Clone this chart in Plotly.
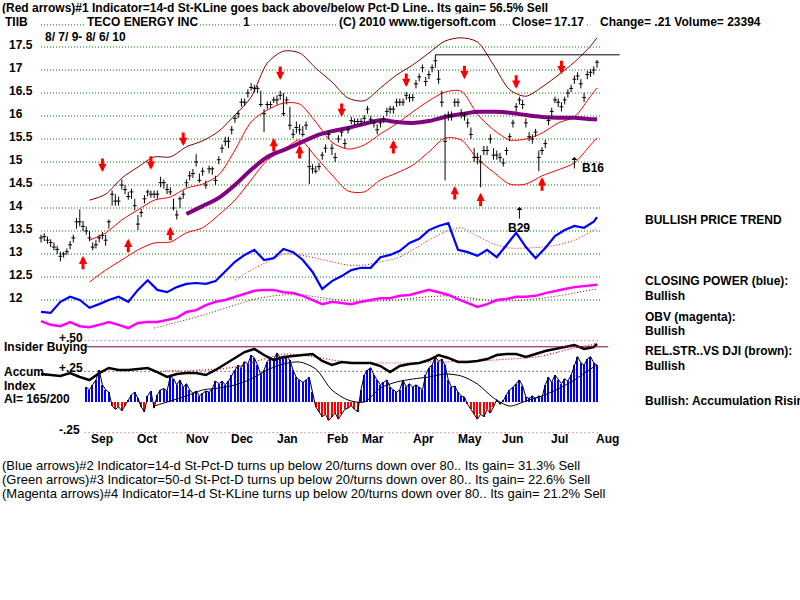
import plotly.graph_objects as go

# ---------------- DATA ----------------
closes = [13.35,13.38,13.30,13.25,13.15,13.10,12.95,13.00,13.05,13.20,
          13.35,13.70,13.70,13.60,13.50,13.35,13.15,13.20,13.35,13.40,
          13.30,13.70,14.30,14.15,14.15,14.50,14.40,14.25,14.35,14.05,
          13.65,13.90,14.20,14.35,14.30,14.30,14.30,14.55,14.55,14.40,
          14.35,14.00,13.85,14.20,14.30,14.55,
          14.70,14.75,15.00,14.60,14.80,14.50,14.85,14.85,14.60,15.05,
          15.30,15.45,15.45,15.70,15.95,16.05,16.30,16.30,16.50,16.62,
          16.60,16.60,16.25,16.05,16.25,16.25,16.35,16.35,16.45,16.05,
          16.35,15.80,15.60,
          15.75,15.70,15.60,15.80,14.90,14.85,14.80,14.90,15.15,15.30,
          15.60,15.30,15.10,15.50,15.65,15.40,15.70,15.90,15.88,15.88,
          15.88,15.95,16.15,15.93,15.85,15.70,15.85,15.93,16.10,16.15,
          16.15,16.30,16.30,16.30,16.45,16.40,16.40,16.70,16.85,17.05,
          16.75,16.90,17.05,17.20,16.80,16.30,15.45,16.00,16.00,16.30,
          16.30,16.05,16.00,15.85,15.60,15.10,15.10,15.00,15.25,15.25,
          15.50,15.15,15.15,15.10,14.98,15.25,15.55,15.85,16.20,16.35,
          16.25,15.85,15.55,15.50,15.65,15.10,15.25,15.40,15.90,16.10,
          16.35,16.30,16.20,16.35,16.50,16.60,16.80,16.87,16.70,16.40,
          16.90,16.95,17.00,17.17]
highs = [13.42,13.45,13.38,13.32,13.25,13.18,13.05,13.05,13.12,13.28,
         13.42,13.78,13.97,13.72,13.60,13.50,13.25,13.30,13.42,13.48,
         13.42,13.75,14.38,14.30,14.25,14.62,14.50,14.35,14.42,14.20,
         13.85,13.98,14.28,14.40,14.38,14.38,14.38,14.68,14.62,14.52,
         14.45,14.20,13.95,14.25,14.38,14.62,
         14.80,14.85,15.17,14.75,14.88,14.60,14.92,14.90,14.70,15.12,
         15.38,15.55,15.55,15.78,16.02,16.12,16.38,16.38,16.58,16.72,
         16.68,16.65,16.55,16.15,16.32,16.32,16.42,16.45,16.55,16.50,
         16.42,16.20,15.72,
         15.88,15.82,15.78,15.88,15.30,14.95,14.92,14.98,15.22,15.38,
         15.68,15.40,15.20,15.58,15.72,15.50,15.78,15.98,15.95,15.95,
         15.95,16.02,16.22,16.00,15.92,15.82,15.92,16.00,16.18,16.22,
         16.22,16.38,16.38,16.38,16.52,16.48,16.48,16.78,16.92,17.12,
         16.85,16.98,17.12,17.33,17.00,16.55,16.05,16.10,16.10,16.38,
         16.38,16.15,16.08,15.95,15.75,15.30,15.20,15.15,15.35,15.35,
         15.60,15.30,15.25,15.20,15.08,15.32,15.62,15.92,16.28,16.42,
         16.35,15.95,15.65,15.60,15.72,15.25,15.32,15.48,15.98,16.18,
         16.42,16.38,16.30,16.42,16.58,16.68,16.88,16.95,16.80,16.50,
         16.98,17.02,17.08,17.22]
lows = [13.25,13.28,13.22,13.15,13.08,13.00,12.84,12.92,12.98,13.10,
        13.25,13.55,13.60,13.50,13.42,13.28,13.08,13.12,13.25,13.32,
        13.18,13.55,14.05,14.05,14.05,14.40,14.30,14.18,14.20,13.95,
        13.52,13.80,14.10,14.25,14.22,14.22,14.20,14.45,14.42,14.30,
        14.28,13.95,13.75,14.00,14.20,14.45,
        14.60,14.65,14.90,14.55,14.70,14.42,14.75,14.72,14.50,14.95,
        15.20,15.35,15.30,15.60,15.85,15.95,16.20,16.22,16.40,16.55,
        16.52,16.50,16.20,15.65,16.15,16.18,16.28,16.25,16.35,16.00,
        16.25,15.70,15.52,
        15.62,15.60,15.55,15.70,14.52,14.75,14.75,14.82,15.05,15.20,
        15.50,15.15,15.00,15.42,15.55,15.30,15.62,15.82,15.80,15.80,
        15.80,15.85,16.05,15.85,15.75,15.60,15.75,15.85,16.00,16.05,
        16.05,16.20,16.22,16.22,16.35,16.30,16.32,16.60,16.75,16.95,
        16.65,16.80,16.95,17.05,16.70,16.20,14.60,15.90,15.90,16.20,
        16.20,15.95,15.90,15.75,15.50,15.00,14.95,14.45,15.15,15.15,
        15.40,15.05,15.05,15.00,14.90,15.15,15.45,15.75,16.10,16.25,
        16.15,15.75,15.45,15.40,15.55,14.80,15.15,15.30,15.80,16.00,
        16.28,16.20,16.10,16.25,16.40,16.52,16.70,16.78,16.60,16.30,
        16.80,16.85,16.90,17.05]

# smooth overlays sampled every 5 trading days (bar index)
grid5 = list(range(0, 171, 5)) + [172]
upper_band = [None,None,None,14.17,14.30,14.65,14.89,15.11,15.11,15.33,15.46,15.67,16.02,16.41,17.15,17.41,17.37,17.04,
              16.74,16.39,16.33,16.61,16.89,17.11,17.37,17.63,17.70,17.61,17.11,16.57,16.43,16.63,16.89,17.17,17.52,17.70]
mid_band = [None,None,None,13.30,13.46,13.74,13.96,14.17,14.24,14.43,14.52,14.72,15.26,15.87,16.13,16.28,16.26,15.87,
            15.43,15.28,15.37,15.61,15.83,16.09,16.33,16.52,16.54,16.04,15.70,15.48,15.50,15.63,15.85,15.98,16.43,16.61]
lower_band = [None,None,None,12.39,12.65,12.87,13.09,13.24,13.26,13.46,13.57,13.85,14.17,14.61,15.04,15.26,15.48,15.11,
              14.72,14.37,14.35,14.61,14.76,14.93,15.22,15.52,15.48,15.07,14.78,14.52,14.52,14.70,14.83,14.98,15.37,15.52]
long_ma = [None]*9 + [13.87,14.04,14.22,14.50,14.83,15.11,15.26,15.41,15.57,15.67,15.74,15.83,15.91,15.87,15.85,15.89,
                      15.98,16.04,16.09,16.09,16.07,16.02,15.98,15.96,15.96,15.93,15.93]
cp_ma = [None]*12 + [12.43,12.65,12.83,13.00,12.98,12.91,12.83,12.76,12.76,12.83,12.91,13.09,13.30,13.48,13.57,13.39,
                     13.22,13.13,13.13,13.15,13.20,13.30,13.48,13.57]
obv_ma = [None]*7 + [11.39,11.48,11.57,11.67,11.78,11.89,12.00,12.07,12.11,12.11,12.07,12.02,11.98,11.96,11.98,12.00,
                     12.04,12.07,12.09,12.07,12.02,11.98,11.98,12.00,12.04,12.09,12.15,12.22,12.24]
rs_ma = [None]*7 + [0.244,0.253,0.253,0.261,0.269,0.285,0.318,0.359,0.391,0.383,0.367,0.342,0.326,0.318,0.318,0.318,
                    0.318,0.326,0.326,0.334,0.334,0.342,0.350,0.359,0.375,0.407,0.440,0.465,0.481]
ai_ma = [None]*7 + [-0.033,0.008,0.049,0.098,0.114,0.139,0.187,0.261,0.310,0.326,0.269,0.098,0.016,0.0,0.114,0.163,
                    0.187,0.204,0.228,0.212,0.147,0.033,-0.033,0.008,0.049,0.106,0.179,0.269,0.302]

# wiggly indicators sampled every 3 trading days
grid3 = list(range(0, 172, 3)) + [172]
closing_power = [11.74,11.72,11.96,12.07,12.00,11.83,11.91,12.00,12.07,11.96,
                 12.22,12.43,12.22,12.17,12.28,12.35,12.37,12.35,12.41,12.61,
                 12.83,12.98,13.09,12.87,12.91,13.11,13.04,12.87,12.61,12.24,
                 12.41,12.52,12.65,12.70,12.70,12.93,12.98,13.07,13.24,13.33,
                 13.52,13.61,13.67,13.09,13.04,12.96,13.09,12.93,13.20,13.46,
                 13.15,12.91,13.13,13.39,13.52,13.61,13.57,13.70,13.80]
obv = [11.54,11.46,11.43,11.52,11.43,11.41,11.46,11.52,11.46,11.39,
       11.50,11.52,11.52,11.57,11.61,11.74,11.78,11.89,11.96,12.00,
       12.07,12.13,12.20,12.22,12.22,12.17,12.15,12.09,12.00,11.91,
       11.96,11.93,11.91,11.96,12.00,12.04,12.04,12.09,12.11,12.17,
       12.22,12.17,12.11,12.02,11.93,11.85,11.91,12.00,12.02,12.07,
       12.07,12.09,12.15,12.20,12.24,12.28,12.30,12.33,12.33]
rel_strength = [0.228,0.220,0.212,0.236,0.204,0.179,0.236,0.277,0.261,0.261,
                0.269,0.277,0.244,0.204,0.228,0.236,0.236,0.220,0.261,0.310,
                0.359,0.407,0.432,0.383,0.342,0.367,0.375,0.383,0.391,0.334,
                0.302,0.326,0.318,0.318,0.318,0.293,0.244,0.293,0.310,0.318,
                0.342,0.383,0.359,0.326,0.326,0.334,0.350,0.383,0.391,0.391,
                0.367,0.391,0.416,0.432,0.448,0.465,0.432,0.448,0.473]

# Accumulation index, one value per bar starting at bar 14
ai_start = 14
accum_index = [0.12,0.10,0.14,0.18,0.26,0.14,0.10,0.08,
               -0.03,-0.06,-0.04,-0.07,-0.03,0.02,0.06,0.08,0.03,-0.04,-0.08,0.05,0.09,-0.05,0.06,0.10,0.11,0.09,
               0.21,0.19,0.14,0.18,0.12,0.15,0.10,0.07,0.09,0.05,0.07,0.09,0.08,0.11,0.17,0.15,0.17,0.14,0.17,0.22,
               0.26,0.30,0.28,0.33,0.31,0.38,0.36,0.30,0.22,0.26,0.33,0.36,0.35,0.40,0.36,0.35,0.37,0.34,0.26,0.20,
               0.18,0.16,0.18,0.20,0.08,-0.04,-0.08,-0.12,-0.10,-0.15,-0.12,-0.09,-0.14,-0.10,-0.06,-0.05,-0.03,-0.06,-0.08,0.10,
               0.22,0.26,0.28,0.22,0.18,0.14,0.16,0.18,0.12,0.10,0.08,0.10,0.18,0.12,0.15,0.12,0.14,0.12,0.10,0.22,
               0.28,0.30,0.37,0.33,0.35,0.30,0.18,0.12,0.13,0.08,0.05,0.04,-0.02,-0.06,-0.10,-0.14,-0.10,-0.12,-0.06,-0.09,
               -0.04,0.02,-0.02,0.01,0.06,0.10,0.12,0.15,0.18,0.13,0.04,0.03,0.05,0.03,0.05,0.04,0.14,0.20,0.16,0.22,
               0.18,0.15,0.19,0.17,0.22,0.30,0.37,0.32,0.30,0.35,0.37,0.32,0.30]

# signal arrows: (bar index, price at arrow tip)
sell_arrow_x = [19, 34, 44, 74, 93, 113, 131, 147, 161]
sell_arrow_y = [14.78, 14.83, 15.35, 16.78, 15.98, 16.63, 16.80, 16.59, 16.91]
buy_arrow_x = [13, 27, 40, 72, 80, 109, 128, 136, 155]
buy_arrow_y = [12.96, 13.33, 13.59, 15.52, 15.37, 15.48, 14.48, 14.33, 14.67]
b_label = ["B29", "B16"]
b_arrow_x = [148, 165]
b_arrow_y = [14.02, 15.11]

price_ticks = [17.5, 17, 16.5, 16, 15.5, 15, 14.5, 14, 13.5, 13, 12.5, 12]
price_tick_text = ["17.5", "17", "16.5", "16", "15.5", "15", "14.5", "14", "13.5", "13", "12.5", "12"]
header_level = 17.98   # dotted leader line behind the title row
months = ["Sep", "Oct", "Nov", "Dec", "Jan", "Feb", "Mar", "Apr", "May", "Jun", "Jul", "Aug"]
month_pos = [18.9, 32.8, 48.3, 62.2, 76.4, 91.6, 102.7, 118.2, 132.7, 146.0, 160.5, 175.4]
ai_levels = [0.50, 0.25, -0.25]
ai_level_text = ["+.50", "+.25", "-.25"]
insider_level = 0.45

# ---------------- FIGURE ----------------
FONT = "Liberation Sans, Arial, sans-serif"
N = len(closes)
fig = go.Figure()

def line(x, y, color, width, dash="solid", shape="spline", yaxis="y"):
    fig.add_trace(go.Scatter(x=x, y=y, mode="lines", yaxis=yaxis,
                             line=dict(color=color, width=width, dash=dash, shape=shape, smoothing=0.8),
                             connectgaps=False, hoverinfo="skip", showlegend=False))

# dotted leader of the title row (masked by the white text boxes)
line([0, N - 3], [header_level, header_level], "#008000", 1, dash="1px,2px", shape="linear")

# OHLC-style bars
bx, by = [], []
for i, (h, l) in enumerate(zip(highs, lows)):
    bx += [i, i, None]
    by += [l, h, None]
for i, c in enumerate(closes):
    bx += [i - 0.6, i + 0.6, None]
    by += [c, c, None]

line(grid5, upper_band, "#800000", 1)
line(grid5, mid_band, "#ff0000", 1)
line(grid5, lower_band, "#ff0000", 1)
line(grid5, long_ma, "#800080", 4)
line(grid5, cp_ma, "#ff0000", 1, dash="1px,2px")
line(grid5, obv_ma, "#800000", 1, dash="1px,2px")
line(grid3, closing_power, "#0000ff", 2.2, shape="linear")
line(grid3, obv, "#ff00ff", 2.5, shape="linear")

fig.add_trace(go.Scatter(x=bx, y=by, mode="lines", line=dict(color="black", width=1),
                         hoverinfo="skip", showlegend=False))

# Accumulation index panel
ai_x = list(range(ai_start, ai_start + len(accum_index)))
fig.add_trace(go.Bar(x=ai_x, y=accum_index, yaxis="y2", width=0.45,
                     marker=dict(color=["#0000ff" if v >= 0 else "#ff0000" for v in accum_index],
                                 line=dict(width=0)),
                     hoverinfo="skip", showlegend=False))
line(ai_x, accum_index, "black", 1, shape="linear", yaxis="y2")
line(grid5, ai_ma, "black", 1, yaxis="y2")
line(grid5, rs_ma, "#ff0000", 1.2, dash="1px,2px", yaxis="y2")
line(grid3, rel_strength, "black", 2.5, shape="linear", yaxis="y2")

shapes = []
for t in price_ticks:
    shapes.append(dict(type="line", xref="x", yref="y", x0=0, x1=N, y0=t, y1=t,
                       line=dict(color="#008000", width=1, dash="1px,2px"), layer="below"))
ai_colors = ["#c03070", "black", "#c03070"]
for lv, col in zip(ai_levels, ai_colors):
    shapes.append(dict(type="line", xref="x", yref="y2", x0=ai_start - 0.5, x1=N, y0=lv, y1=lv,
                       line=dict(color=col, width=1, dash="1px,3px"), layer="below"))
shapes.append(dict(type="line", xref="x", yref="y2", x0=ai_start - 0.5, x1=N + 2.5,
                   y0=insider_level, y1=insider_level, line=dict(color="#800050", width=1)))
top = max(highs)
itop = highs.index(top)
shapes.append(dict(type="line", xref="x", yref="y", x0=itop, x1=N + 6, y0=top, y1=top,
                   line=dict(color="black", width=1)))

ann = []
def txt(s, x, y, size=12, bold=True, bg=None, anchor="left"):
    d = dict(text=("<b>%s</b>" % s) if bold else s, xref="paper", yref="paper",
             x=x/800, y=1-y/600, xanchor=anchor, yanchor="middle", showarrow=False,
             font=dict(family=FONT, size=size, color="black"))
    if bg:
        d["bgcolor"] = bg
        d["borderpad"] = 1
    ann.append(d)

txt("(Red arrows)#1 Indicator=14-d St-KLine goes back above/below Pct-D Line.. Its gain= 56.5% Sell", 0, 8)
txt("TIIB", 3, 22, bg="white")
txt("TECO ENERGY INC", 85, 22, bg="white")
txt("1", 241, 22, bg="white")
txt("(C) 2010 www.tigersoft.com", 337, 22, bg="white")
txt("Close=", 510, 22, bg="white")
txt("17.17", 552, 22, bg="white")
txt("Change= .21 Volume= 23394", 598, 22, bg="white")
txt("8/ 7/ 9- 8/ 6/ 10", 43, 37)

for t, s in zip(price_ticks, price_tick_text):
    ann.append(dict(text="<b>%s</b>" % s, xref="paper", yref="y", x=7/800, y=t, xanchor="left",
                    yanchor="middle", yshift=2, showarrow=False, font=dict(family=FONT, size=12, color="black")))
for m, p in zip(months, month_pos):
    ann.append(dict(text="<b>%s</b>" % m, xref="x", yref="paper", x=p, y=1-439/600, xanchor="center",
                    yanchor="middle", showarrow=False, font=dict(family=FONT, size=12, color="black")))
for lv, s in zip(ai_levels, ai_level_text):
    ann.append(dict(text="<b>%s</b>" % s, xref="paper", yref="y2", x=57/800, y=lv, xanchor="left",
                    yanchor="middle", yshift=3, showarrow=False, font=dict(family=FONT, size=12, color="black")))

txt("Insider Buying", 2, 347)
txt("Accum.", 2, 372)
txt("Index", 2, 386)
txt("AI= 165/200", 2, 399)

txt("BULLISH PRICE TREND", 643, 220)
txt("CLOSING POWER (blue):", 643, 281)
txt("Bullish", 643, 296)
txt("OBV (magenta):", 643, 317)
txt("Bullish", 643, 331)
txt("REL.STR..VS DJI (brown):", 643, 351)
txt("Bullish", 643, 366)
txt("Bullish: Accumulation Rising", 643, 401)

txt("(Blue arrows)#2 Indicator=14-d St-Pct-D turns up below 20/turns down over 80.. Its gain= 31.3% Sell", 0, 465, size=13, bold=False)
txt("(Green arrows)#3 Indicator=50-d St-Pct-D turns up below 20/turns down over 80.. Its gain= 22.6% Sell", 0, 479, size=13, bold=False)
txt("(Magenta arrows)#4 Indicator=14-d St-KLine turns up below 20/turns down over 80.. Its gain= 21.2% Sell", 0, 493, size=13, bold=False)

for x, y in zip(sell_arrow_x, sell_arrow_y):
    ann.append(dict(x=x, y=y, xref="x", yref="y", text="", showarrow=True, ax=0, ay=-15,
                    arrowcolor="#ff0000", arrowwidth=3, arrowhead=2, arrowsize=0.55, standoff=0))
for x, y in zip(buy_arrow_x, buy_arrow_y):
    ann.append(dict(x=x, y=y, xref="x", yref="y", text="", showarrow=True, ax=0, ay=15,
                    arrowcolor="#ff0000", arrowwidth=3, arrowhead=2, arrowsize=0.55, standoff=0))
for lab, x, y in zip(b_label, b_arrow_x, b_arrow_y):
    ann.append(dict(x=x, y=y, xref="x", yref="y", text="", showarrow=True, ax=0, ay=13,
                    arrowcolor="black", arrowwidth=1, arrowhead=1, arrowsize=1, standoff=0))
ann.append(dict(x=b_arrow_x[0], y=b_arrow_y[0], xref="x", yref="y", text="<b>%s</b>" % b_label[0],
                showarrow=False, yshift=-21, font=dict(family=FONT, size=12, color="black")))
ann.append(dict(x=b_arrow_x[1], y=b_arrow_y[1], xref="x", yref="y", text="<b>%s</b>" % b_label[1],
                showarrow=False, xanchor="left", xshift=6, yshift=-11, font=dict(family=FONT, size=12, color="black")))

fig.update_layout(
    width=800, height=600, margin=dict(l=0, r=0, t=0, b=0),
    paper_bgcolor="white", plot_bgcolor="white", showlegend=False, bargap=0,
    xaxis=dict(range=[-12.683, 234.80], domain=[0, 1], visible=False),
    yaxis=dict(range=[11.239, 18.087], domain=[1-335/600, 1-20/600], visible=False),
    yaxis2=dict(range=[-0.3504, 0.5379], domain=[1-445/600, 1-336/600], visible=False),
    shapes=shapes, annotations=ann,
)

fig.write_html("out.html")
